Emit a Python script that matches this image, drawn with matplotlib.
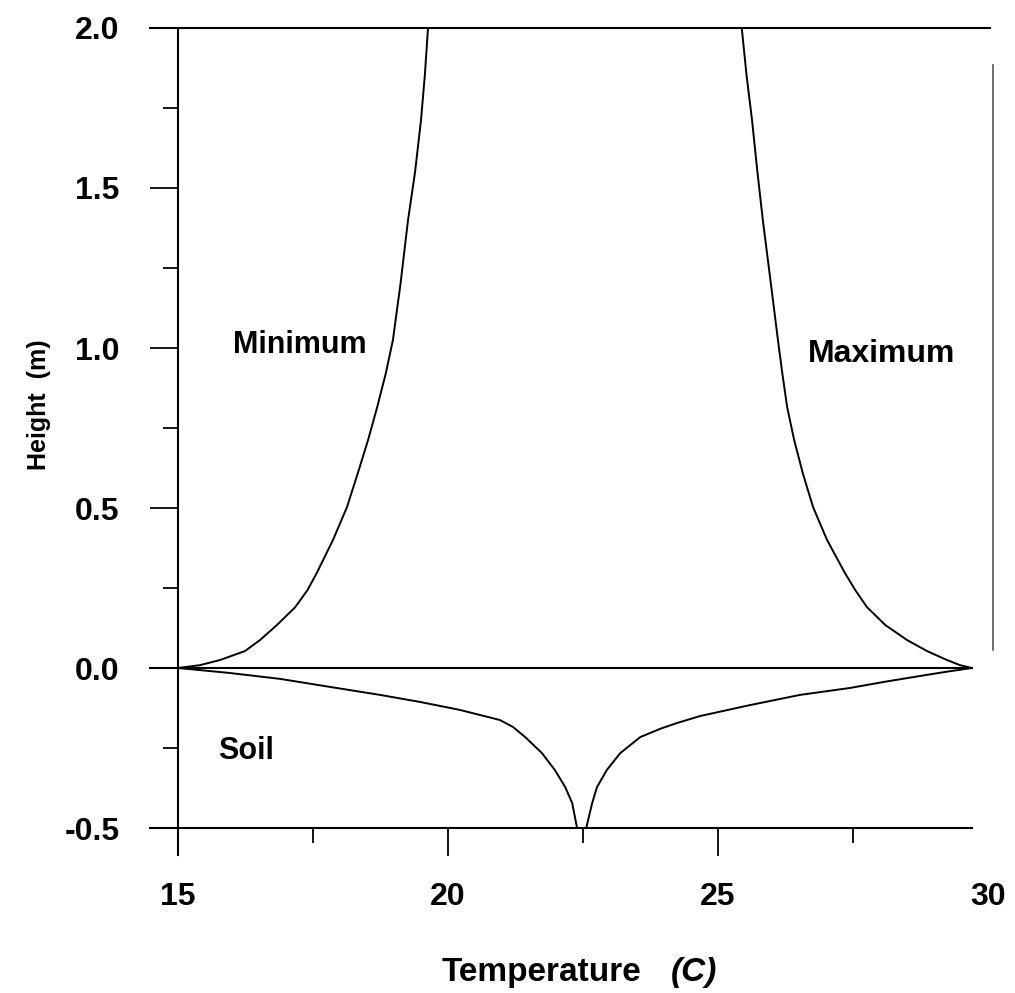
import matplotlib
matplotlib.use('Agg')
import matplotlib.pyplot as plt
from matplotlib.ticker import MultipleLocator

plt.rcParams['font.family'] = ['Liberation Sans', 'DejaVu Sans']
plt.rcParams['font.weight'] = 'bold'

# profiles (temperature in C, height in m)
min_temp = [15.0, 15.41, 15.78, 16.24, 16.52, 16.83, 17.17, 17.40, 17.57, 17.87, 18.13,
            18.33, 18.52, 18.69, 18.85, 18.98, 19.12, 19.26, 19.39, 19.50, 19.57, 19.63]
min_height = [0.0, 0.009, 0.025, 0.053, 0.0875, 0.134, 0.19, 0.244, 0.297, 0.40, 0.503,
              0.609, 0.7125, 0.816, 0.922, 1.025, 1.2, 1.40, 1.55, 1.7125, 1.85, 2.0]

max_temp = [29.70, 29.48, 29.24, 28.87, 28.50, 28.10, 27.76, 27.54, 27.35, 27.02, 26.76,
            26.57, 26.41, 26.28, 26.19, 26.11, 25.98, 25.83, 25.73, 25.63, 25.53, 25.44]
max_height = [0.0, 0.009, 0.025, 0.053, 0.0875, 0.134, 0.19, 0.244, 0.297, 0.40, 0.503,
              0.609, 0.7125, 0.816, 0.922, 1.025, 1.2, 1.40, 1.55, 1.7125, 1.85, 2.0]

soil_left_temp = [15.0, 15.96, 16.89, 17.81, 18.74, 19.48, 20.22, 20.96, 21.20, 21.43,
                  21.74, 21.98, 22.17, 22.30, 22.39]
soil_left_depth = [0.0, -0.0156, -0.034, -0.059, -0.084, -0.106, -0.131, -0.1625, -0.184,
                   -0.216, -0.266, -0.319, -0.372, -0.422, -0.5]

soil_right_temp = [22.56, 22.67, 22.76, 22.94, 23.19, 23.56, 23.93, 24.24, 24.67, 25.59,
                   26.52, 27.44, 28.09, 28.74, 29.20, 29.70]
soil_right_depth = [-0.5, -0.422, -0.372, -0.319, -0.266, -0.216, -0.19, -0.172, -0.15,
                    -0.116, -0.084, -0.0625, -0.043, -0.025, -0.0125, 0.0]

xticks = [15, 20, 25, 30]
yticks = [-0.5, 0.0, 0.5, 1.0, 1.5, 2.0]

fig = plt.figure(figsize=(10.15, 9.93), dpi=100)
ax = fig.add_axes([178/1015, 165/993, 810/1015, 800/993])

lw = 1.4
ax.plot(min_temp, min_height, color='black', lw=lw)
ax.plot(max_temp, max_height, color='black', lw=lw)
ax.plot(soil_left_temp, soil_left_depth, color='black', lw=lw)
ax.plot(soil_right_temp, soil_right_depth, color='black', lw=lw)

ax.set_xlim(15, 30)
ax.set_ylim(-0.5, 2.0)

# frame lines drawn by hand, the original frame is open
for s in ax.spines.values():
    s.set_visible(False)
ax.axhline(2.0, xmin=-0.0346, xmax=1.0025, color='black', lw=1.5, clip_on=False)
ax.axhline(0.0, xmin=-0.0346, xmax=0.980, color='black', lw=1.5, clip_on=False)
ax.axhline(-0.5, xmin=-0.0346, xmax=0.980, color='black', lw=1.5, clip_on=False)
ax.axvline(15, ymin=-0.034, ymax=1.0, color='black', lw=1.5, clip_on=False)
ax.axvline(30.09, ymin=0.222, ymax=0.954, color='#555555', lw=1.2, clip_on=False)

ax.set_xticks(xticks)
ax.set_xticklabels([str(t) for t in xticks])
ax.xaxis.set_minor_locator(MultipleLocator(2.5))
ax.set_yticks(yticks)
ax.set_yticklabels([f'{t:.1f}' for t in yticks])
ax.yaxis.set_minor_locator(MultipleLocator(0.25))

ax.tick_params(axis='both', which='major', direction='out', length=20, width=1.3,
               labelsize=23, color='black')
ax.tick_params(axis='both', which='minor', direction='out', length=11, width=1.3)
ax.tick_params(axis='x', which='major', pad=19)
ax.tick_params(axis='y', which='major', pad=22)
ax.xaxis.get_major_ticks()[-1].tick1line.set_visible(False)
ax.xaxis.get_major_ticks()[0].tick1line.set_visible(False)

for lab in ax.get_xticklabels() + ax.get_yticklabels():
    lab.set_fontweight('bold')

ax.text(16.02, 1.01, 'Minimum', fontsize=22, fontweight='bold', va='center', ha='left')
ax.text(26.67, 0.98, 'Maximum', fontsize=23, fontweight='bold', va='center', ha='left')
ax.text(15.74, -0.26, 'Soil', fontsize=22, fontweight='bold', va='center', ha='left')

fig.text(0.038, 1 - 405/993, 'Height  (m)', rotation=90, fontsize=18, fontweight='bold',
         ha='center', va='center')
fig.text(442/1015, 1 - 972/993, 'Temperature', fontsize=24, fontweight='bold',
         ha='left', va='center')
fig.text(717/1015, 1 - 972/993, '(C)', fontsize=24, fontweight='bold', style='italic',
         ha='right', va='center')

fig.savefig('out.png', dpi=100)
